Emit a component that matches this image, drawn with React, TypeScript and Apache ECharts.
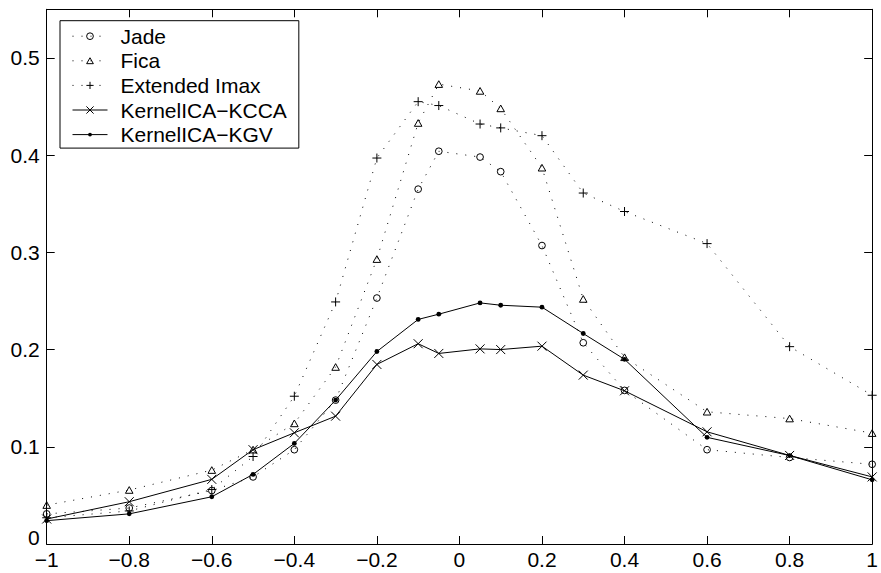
import React, { useEffect, useRef } from "react";
import * as echarts from "echarts";

const xs = [-1, -0.8, -0.6, -0.5, -0.4, -0.3, -0.2, -0.1, -0.05, 0.05, 0.1, 0.2, 0.3, 0.4, 0.6, 0.8, 1];

const jade = [0.031, 0.037, 0.055, 0.069, 0.097, 0.148, 0.253, 0.365, 0.404, 0.398, 0.383, 0.307, 0.207, 0.158, 0.097, 0.089, 0.082];
const fica = [0.040, 0.0555, 0.076, 0.097, 0.124, 0.182, 0.293, 0.433, 0.473, 0.466, 0.448, 0.387, 0.252, 0.192, 0.136, 0.129, 0.114];
const imax = [0.027, 0.034, 0.056, 0.090, 0.152, 0.249, 0.397, 0.455, 0.451, 0.432, 0.428, 0.420, 0.361, 0.342, 0.309, 0.203, 0.153];
const kcca = [0.0257, 0.0435, 0.0665, 0.097, 0.1144, 0.1315, 0.1847, 0.206, 0.196, 0.2007, 0.2, 0.2035, 0.1737, 0.1576, 0.1154, 0.0911, 0.069];
const kgv = [0.024, 0.031, 0.0486, 0.0716, 0.1035, 0.148, 0.198, 0.231, 0.2364, 0.248, 0.2456, 0.2436, 0.2165, 0.19, 0.1097, 0.091, 0.066];

const seriesNames = ["Jade", "Fica", "Extended Imax", "KernelICA\u2212KCCA", "KernelICA\u2212KGV"];

const xTicks = { min: -1, max: 1, interval: 0.2 };
const yTicks = { min: 0, max: 0.55, interval: 0.1 };

const FONT = "'Liberation Sans', Arial, Helvetica, sans-serif";

// marker shapes (padded with M points so the glyph sits inside a 10x10 box)
const PLUS = "path://M0 0M10 10M5 0.5L5 9.5M0.5 5L9.5 5";
const CROSS = "path://M0 0M10 10M0.5 0.5L9.5 9.5M9.5 0.5L0.5 9.5";
const DOT = "path://M0 0M10 10M2.6 5A2.4 2.4 0 1 1 7.4 5A2.4 2.4 0 1 1 2.6 5Z";
const RING = "path://M0 0M10 10M0.8 5A4.2 4.2 0 1 1 9.2 5A4.2 4.2 0 1 1 0.8 5Z";
const TRI = "path://M0 0M10 10M5 1.2L9.2 8.6L0.8 8.6Z";

function pairs(ys: number[]) {
  return xs.map((x, i) => [x, ys[i]]);
}

export default function App() {
  const ref = useRef<HTMLDivElement>(null);
  useEffect(() => {
    if (!ref.current) return;
    const chart = echarts.init(ref.current, null, { renderer: "svg" });
    const dotted = { color: "#000", width: 1, type: [1, 8] as number[] };
    const solid = { color: "#000", width: 1, type: "solid" as const };
    const hollow = { color: "rgba(0,0,0,0)", borderColor: "#000", borderWidth: 1 };
    const mk = (name: string, ys: number[], symbol: string, size: any, lineStyle: any, itemStyle: any) => ({
      type: "line",
      name,
      data: pairs(ys),
      symbol,
      symbolSize: size,
      showSymbol: true,
      color: "#000",
      lineStyle,
      itemStyle,
      silent: true,
      emphasis: { disabled: true },
      xAxisIndex: 0,
      yAxisIndex: 0,
    });
    const axisCommon = {
      axisLine: { show: true, onZero: false, lineStyle: { color: "#000", width: 1 } },
      axisTick: { show: true, inside: true, length: 8, lineStyle: { color: "#000", width: 1 } },
      splitLine: { show: false },
    };
    const labelStyle = { color: "#000", fontSize: 21, fontFamily: FONT };
    chart.setOption({
      animation: false,
      backgroundColor: "#fff",
      grid: { left: 46.7, right: 1, top: 9.3, bottom: 29, containLabel: false },
      xAxis: [
        {
          type: "value",
          position: "bottom",
          min: xTicks.min,
          max: xTicks.max,
          interval: xTicks.interval,
          ...axisCommon,
          axisLabel: {
            ...labelStyle,
            margin: 5,
            formatter: (v: number) => String(Math.round(v * 10) / 10).replace("-", "\u2212"),
          },
        },
        {
          type: "value",
          position: "top",
          min: xTicks.min,
          max: xTicks.max,
          interval: xTicks.interval,
          ...axisCommon,
          axisLabel: { show: false },
        },
      ],
      yAxis: [
        {
          type: "value",
          position: "left",
          min: yTicks.min,
          max: yTicks.max,
          interval: yTicks.interval,
          ...axisCommon,
          axisLabel: {
            ...labelStyle,
            margin: 7,
            showMaxLabel: false,
            formatter: (v: number) => {
              const s = String(Math.round(v * 10) / 10);
              return v === 0 ? "{z|" + s + "}" : s;
            },
            rich: { z: { ...labelStyle, padding: [0, 0, 14, 0] } },
          },
        },
        {
          type: "value",
          position: "right",
          min: yTicks.min,
          max: yTicks.max,
          interval: yTicks.interval,
          ...axisCommon,
          axisLabel: { show: false },
        },
      ],
      legend: {
        orient: "vertical",
        left: 60,
        top: 20.7,
        padding: [5, 12, 3, 12],
        itemWidth: 35,
        itemHeight: 10,
        itemGap: 3.6,
        backgroundColor: "#fff",
        borderColor: "#000",
        borderWidth: 1,
        borderRadius: 0,
        selectedMode: false,
        itemStyle: { borderWidth: 1 },
        lineStyle: { width: 1 },
        textStyle: { color: "#000", fontSize: 21, fontFamily: FONT, lineHeight: 21, padding: [0, 0, 0, 8] },
        data: seriesNames,
      },
      series: [
        mk(seriesNames[0], jade, RING, 8, dotted, hollow),
        mk(seriesNames[1], fica, TRI, 9, dotted, hollow),
        mk(seriesNames[2], imax, PLUS, 10, dotted, hollow),
        mk(seriesNames[3], kcca, CROSS, 10, solid, hollow),
        mk(seriesNames[4], kgv, DOT, 10, solid, { color: "#000", borderWidth: 0 }),
      ],
    });
    return () => chart.dispose();
  }, []);
  return <div ref={ref} style={{ width: 881, height: 573, position: "absolute", left: 0, top: 0 }} />;
}
